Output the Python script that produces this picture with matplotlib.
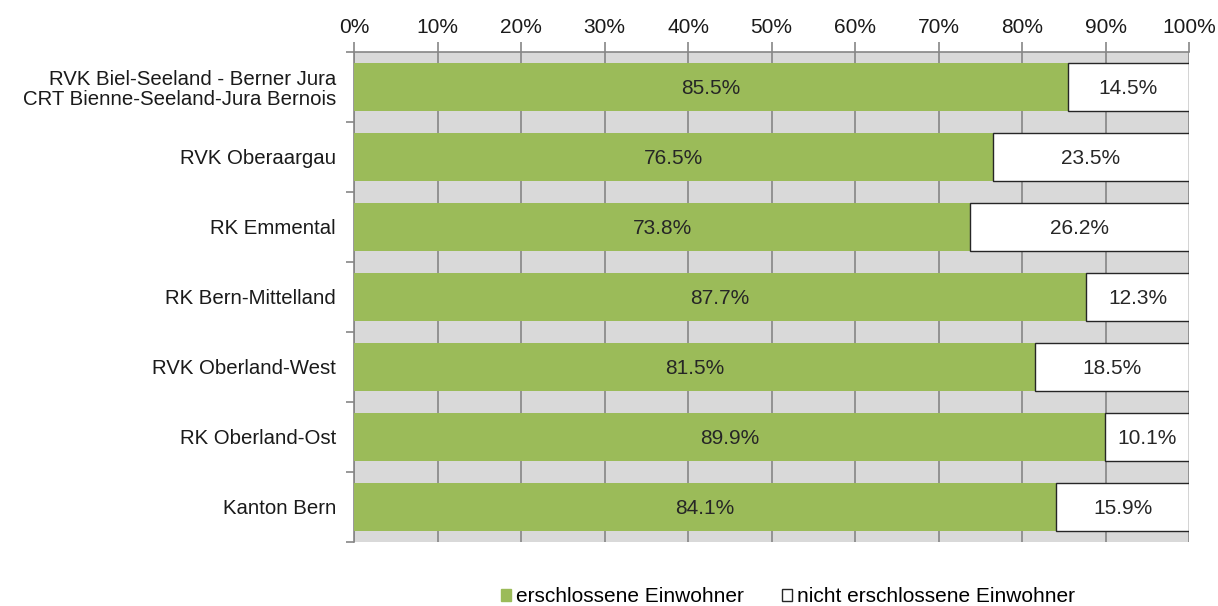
import numpy as np
import matplotlib.pyplot as plt
from matplotlib.ticker import FixedLocator, PercentFormatter
from matplotlib.patches import Patch

plt.rcParams['font.family'] = ['Liberation Sans', 'DejaVu Sans']

REGIONS = [
    'RVK Biel-Seeland - Berner Jura\nCRT Bienne-Seeland-Jura Bernois',
    'RVK Oberaargau',
    'RK Emmental',
    'RK Bern-Mittelland',
    'RVK Oberland-West',
    'RK Oberland-Ost',
    'Kanton Bern',
]
ERSCHLOSSEN = [85.5, 76.5, 73.8, 87.7, 81.5, 89.9, 84.1]
NICHT_ERSCHLOSSEN = [14.5, 23.5, 26.2, 12.3, 18.5, 10.1, 15.9]

GREEN = '#9bbb59'
AXIS_GRAY = '#868686'
FS = 15


def main():
    fig = plt.figure(figsize=(12.18, 6.06), dpi=100)
    ax = fig.add_axes([354 / 1218, 1 - 542 / 606, (1189 - 354) / 1218, 490 / 606])
    ax.set_facecolor('#d9d9d9')

    y = np.arange(len(REGIONS))
    h = 0.69
    ax.barh(y, ERSCHLOSSEN, height=h, color=GREEN, zorder=3)
    ax.barh(y, NICHT_ERSCHLOSSEN, left=ERSCHLOSSEN, height=h,
            color='white', edgecolor='#262626', linewidth=1.0, zorder=3)

    for yi, g, w in zip(y, ERSCHLOSSEN, NICHT_ERSCHLOSSEN):
        ax.text(g / 2, yi, f'{g:.1f}%', ha='center', va='center_baseline', fontsize=FS,
                color='#262626', zorder=4)
        ax.text(g + w / 2, yi, f'{w:.1f}%', ha='center', va='center_baseline', fontsize=FS,
                color='#262626', zorder=4)

    ax.set_xlim(0, 100)
    ax.set_ylim(len(REGIONS) - 0.5, -0.5)
    ax.xaxis.tick_top()
    ax.set_xticks(np.arange(0, 101, 10))
    ax.xaxis.set_major_formatter(PercentFormatter(decimals=0))
    ax.grid(axis='x', color=AXIS_GRAY, linewidth=1.2, zorder=1)

    ax.set_yticks(y)
    ax.set_yticklabels(REGIONS, fontsize=14.7, color='#1a1a1a', linespacing=1.05)
    ax.yaxis.set_minor_locator(FixedLocator(np.arange(-0.5, len(REGIONS), 1)))
    ax.tick_params(axis='y', which='major', length=0, pad=13)
    ax.tick_params(axis='y', which='minor', length=6, color=AXIS_GRAY, width=1.2)
    ax.tick_params(axis='x', length=7, color=AXIS_GRAY, width=1.2, labelsize=FS,
                   labelcolor='#1a1a1a', pad=4)

    for side in ['right', 'bottom']:
        ax.spines[side].set_visible(False)
    for side in ['left', 'top']:
        ax.spines[side].set_color(AXIS_GRAY)
        ax.spines[side].set_linewidth(1.2)

    handles = [Patch(facecolor=GREEN, edgecolor=GREEN),
               Patch(facecolor='white', edgecolor='#262626')]
    fig.legend(handles, ['erschlossene Einwohner', 'nicht erschlossene Einwohner'],
               loc='center', bbox_to_anchor=(0.647, 1 - 597 / 606), ncol=2, frameon=False,
               fontsize=FS, handlelength=0.5, handleheight=0.5, handletextpad=0.25,
               columnspacing=1.8, borderpad=0)

    fig.savefig('out.png', dpi=100)


if __name__ == '__main__':
    main()
